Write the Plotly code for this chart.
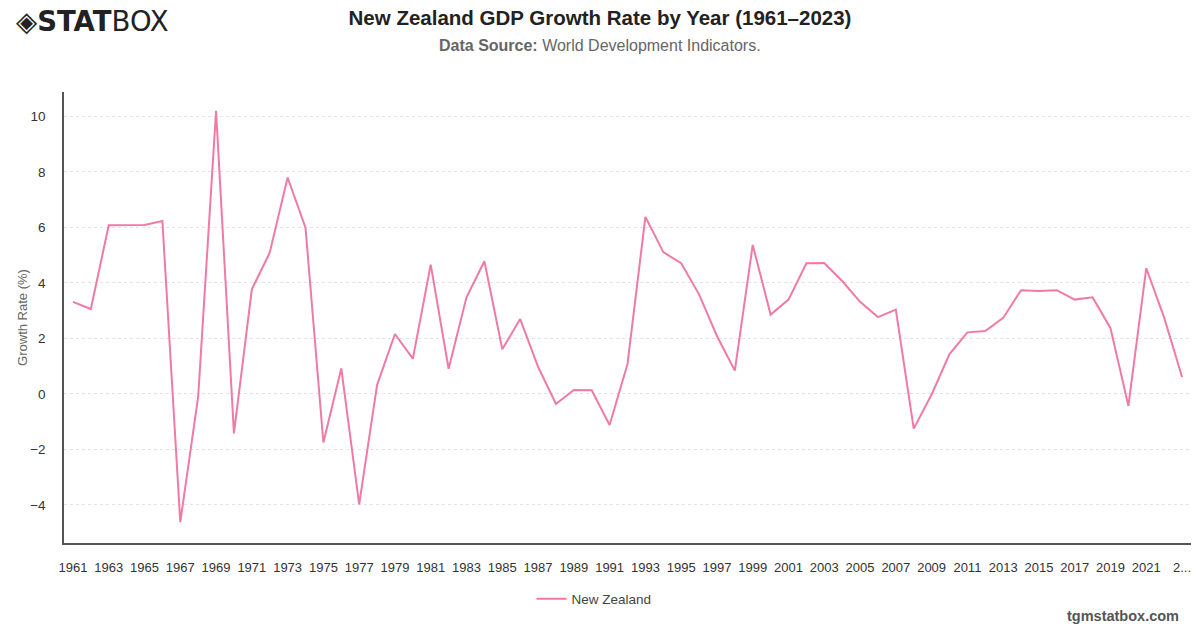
import plotly.graph_objects as go

years = list(range(1961, 2024))
growth = [3.32, 3.06, 6.08, 6.08, 6.09, 6.23, -4.62, -0.10, 10.20, -1.42,
          3.77, 5.09, 7.80, 5.99, -1.75, 0.92, -3.98, 0.32, 2.16, 1.27,
          4.66, 0.91, 3.48, 4.78, 1.61, 2.70, 0.98, -0.36, 0.14, 0.13,
          -1.12, 1.08, 6.38, 5.11, 4.71, 3.59, 2.09, 0.84, 5.37, 2.86,
          3.40, 4.71, 4.72, 4.07, 3.32, 2.77, 3.04, -1.25, -0.02, 1.44,
          2.22, 2.27, 2.74, 3.74, 3.71, 3.74, 3.40, 3.48, 2.37, -0.43,
          4.53, 2.75, 0.61]
tick_years = list(range(1961, 2024, 2))
tick_text = [str(y) for y in tick_years[:-1]] + ["2..."]
y_ticks = [-4, -2, 0, 2, 4, 6, 8, 10]

FONT = "Liberation Sans"

fig = go.Figure()
fig.add_trace(go.Scatter(
    x=years, y=growth, mode="lines", name="New Zealand",
    line=dict(color="#f07aa6", width=2),
))

fig.update_layout(
    width=1200, height=628,
    margin=dict(l=64, r=9, t=92, b=85),
    paper_bgcolor="white", plot_bgcolor="white",
    font=dict(family=FONT, color="#333333", size=13),
    title=dict(
        text="<b>New Zealand GDP Growth Rate by Year (1961–2023)</b>",
        x=0.5, xref="container", xanchor="center",
        y=1 - 18 / 628, yref="container", yanchor="middle",
        font=dict(family=FONT, size=20.5, color="#222222"),
    ),
    showlegend=True,
    legend=dict(
        orientation="h", x=(594 - 64) / 1127, xanchor="center",
        y=-(599 - 543) / 451, yanchor="middle",
        font=dict(family=FONT, size=13.5, color="#444444"),
        bgcolor="rgba(0,0,0,0)",
    ),
    xaxis=dict(
        range=[1960.5, 2023.5],
        tickmode="array", tickvals=tick_years, ticktext=tick_text,
        showgrid=False, zeroline=False,
        showline=True, linecolor="#555555", linewidth=1.5,
        ticks="", ticklabelstandoff=12, automargin=False,
        tickfont=dict(family=FONT, size=13, color="#333333"),
    ),
    yaxis=dict(
        range=[-5.37, 10.88],
        tickmode="array", tickvals=y_ticks,
        showgrid=True, gridcolor="#e3e3e3", griddash="dot", gridwidth=1,
        zeroline=False, automargin=False,
        showline=True, linecolor="#555555", linewidth=1.5,
        ticks="", ticklabelstandoff=14,
        tickfont=dict(family=FONT, size=13.5, color="#333333"),
        title=dict(text="Growth Rate (%)", standoff=0,
                   font=dict(family=FONT, size=13, color="#666666")),
    ),
)

fig.add_annotation(
    text="<b>Data Source:</b> World Development Indicators.",
    xref="paper", yref="paper", x=(600 - 64) / 1127, y=1 + (92 - 46) / 451,
    xanchor="center", yanchor="middle", showarrow=False,
    font=dict(family=FONT, size=16, color="#666666"),
)
fig.add_annotation(
    text="<b>tgmstatbox.com</b>",
    xref="paper", yref="paper", x=(1181 - 64) / 1127, y=-(616 - 543) / 451,
    xanchor="right", yanchor="middle", showarrow=False,
    font=dict(family=FONT, size=14.5, color="#555555"),
)
fig.add_annotation(
    text="◈<b>STAT</b>BOX",
    xref="paper", yref="paper", x=(14 - 64) / 1127, y=1 + (92 - 21) / 451,
    xanchor="left", yanchor="middle", showarrow=False,
    font=dict(family="DejaVu Sans", size=27.5, color="#222222"),
)

fig.write_html("out.html")
